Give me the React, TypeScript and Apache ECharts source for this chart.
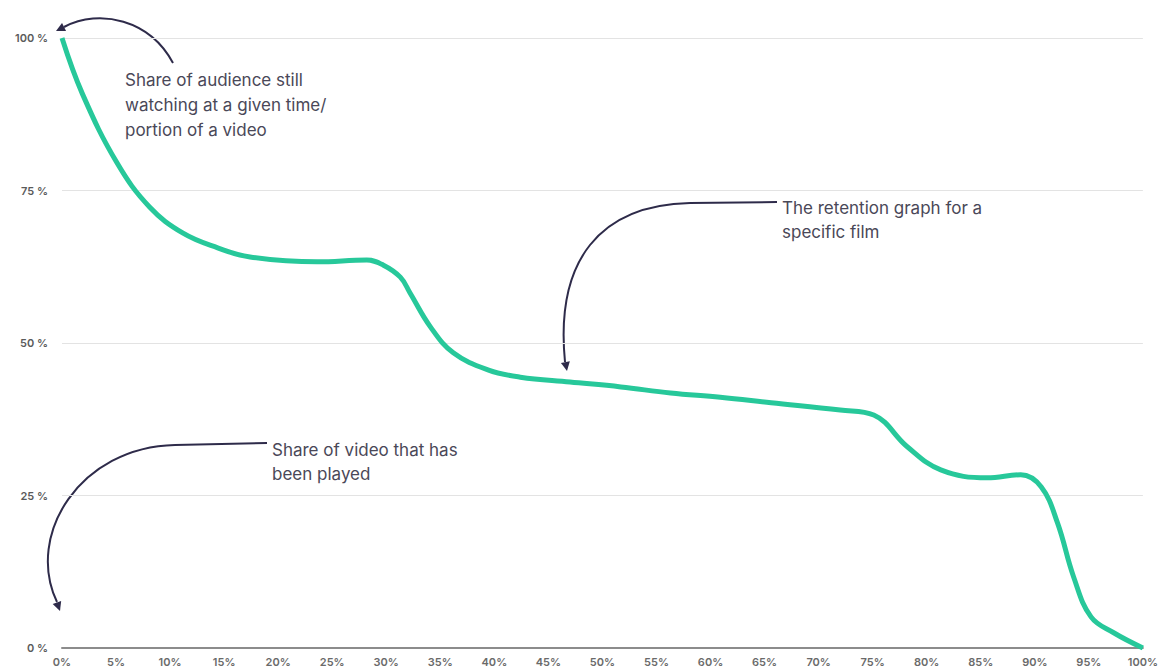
import React, { useEffect, useRef } from "react";
import * as echarts from "echarts";

// Share of the video that has been played (%)
const playedShare = [
  0, 1.9, 5.1, 8.1, 11.2, 14.4, 17.4, 23.6, 28.2, 29.7, 31.3, 32.2, 34.1,
  36.2, 39.4, 42.4, 47.0, 51.7, 56.3, 60.9, 65.6, 72.0, 75.1, 78.2, 81.3, 85.6,
  88.7, 90.6, 92.1, 93.6, 95.2, 97.3, 100,
];
// Share of the audience still watching (%)
const audienceShare = [
  100, 90.8, 79.5, 72.3, 68.0, 65.6, 64.1, 63.3, 63.6, 62.8, 60.8, 58.2,
  52.6, 48.4, 45.6, 44.4, 43.6, 42.8, 41.8, 41.1, 40.2, 39.0, 38.2, 33.0, 29.2,
  27.9, 28.4, 26.4, 20.5, 11.6, 5.1, 2.5, 0,
];

const xTicks = { min: 0, max: 100, step: 5 };
const yTicks = { min: 0, max: 100, step: 25 };

const annotations = [
  { text: "Share of audience still\nwatching at a given time/\nportion of a video", x: 125, y: 67, lh: 25 },
  { text: "The retention graph for a\nspecific film", x: 782, y: 196, lh: 24 },
  { text: "Share of video that has\nbeen played", x: 272, y: 438, lh: 24 },
];

const INK = "#2e2b4a";
const FONT = "Inter, 'Noto Sans', sans-serif";

function arrowHead(tip: [number, number], from: [number, number], len = 9, half = 4.5) {
  const dx = tip[0] - from[0];
  const dy = tip[1] - from[1];
  const d = Math.hypot(dx, dy) || 1;
  const ux = dx / d;
  const uy = dy / d;
  const bx = tip[0] - ux * len;
  const by = tip[1] - uy * len;
  return {
    type: "polygon",
    silent: true,
    shape: {
      points: [
        [tip[0], tip[1]],
        [bx - uy * half, by + ux * half],
        [bx + uy * half, by - ux * half],
      ],
    },
    style: { fill: INK },
  };
}

function curve(p1: number[], c1: number[], c2: number[], p2: number[]) {
  return {
    type: "bezierCurve",
    silent: true,
    shape: { x1: p1[0], y1: p1[1], cpx1: c1[0], cpy1: c1[1], cpx2: c2[0], cpy2: c2[1], x2: p2[0], y2: p2[1] },
    style: { stroke: INK, lineWidth: 2, fill: "none" },
  };
}

function straight(p1: number[], p2: number[]) {
  return {
    type: "line",
    silent: true,
    shape: { x1: p1[0], y1: p1[1], x2: p2[0], y2: p2[1] },
    style: { stroke: INK, lineWidth: 2 },
  };
}

export default function App() {
  const ref = useRef<HTMLDivElement>(null);

  useEffect(() => {
    document.body.style.margin = "0";
    if (!ref.current) return;
    const chart = echarts.init(ref.current, null, { renderer: "svg" });

    const graphics: any[] = [
      // pointer to the y axis
      curve([173, 63], [150, 20], [100, 8], [64, 27]),
      arrowHead([56, 31], [66, 26]),
      // pointer to the curve
      straight([777, 202], [690, 203]),
      curve([690, 203], [600, 205], [555, 260], [565, 362]),
      arrowHead([567, 371], [565, 360]),
      // pointer to the x axis
      straight([267, 443], [175, 445]),
      curve([175, 445], [80, 447], [25, 535], [57, 602]),
      arrowHead([60, 611], [56, 600]),
      ...annotations.map((a) => ({
        type: "text",
        silent: true,
        x: a.x,
        y: a.y,
        style: {
          text: a.text,
          fill: "#4a4858",
          font: `400 17px ${FONT}`,
          lineHeight: a.lh,
          textVerticalAlign: "top",
        },
      })),
    ];

    chart.setOption({
      animation: false,
      backgroundColor: "#ffffff",
      grid: { left: 62, right: 18, top: 38, bottom: 22 },
      xAxis: {
        type: "value",
        min: xTicks.min,
        max: xTicks.max,
        interval: xTicks.step,
        axisLine: { show: true, lineStyle: { color: "#8c8c8c", width: 2 } },
        axisTick: { show: false },
        splitLine: { show: false },
        axisLabel: {
          formatter: "{value}%",
          fontSize: 11,
          fontWeight: 600,
          color: "#6a6a6a",
          fontFamily: FONT,
          margin: 8,
        },
      },
      yAxis: {
        type: "value",
        min: yTicks.min,
        max: yTicks.max,
        interval: yTicks.step,
        axisLine: { show: false },
        axisTick: { show: false },
        splitLine: { lineStyle: { color: "#e3e3e3", width: 1 } },
        axisLabel: {
          formatter: "{value} %",
          fontSize: 11,
          fontWeight: 600,
          color: "#5a5a5a",
          fontFamily: FONT,
          margin: 14,
        },
      },
      series: [
        {
          type: "line",
          smooth: 0.4,
          symbol: "none",
          lineStyle: { color: "#27c89a", width: 5 },
          data: playedShare.map((x, i) => [x, audienceShare[i]]),
          z: 3,
        },
      ],
      graphic: graphics,
    });

    return () => chart.dispose();
  }, []);

  return <div ref={ref} style={{ width: 1161, height: 670 }} />;
}
